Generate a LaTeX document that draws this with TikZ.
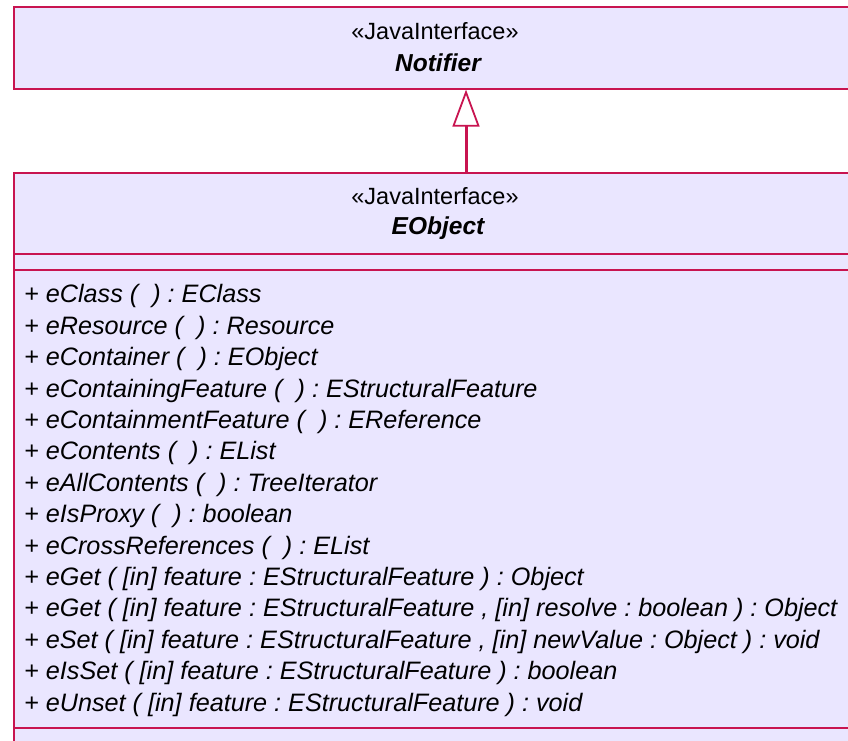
\documentclass[tikz,border=0pt]{standalone}
\usepackage{fontspec}
\setmainfont{Liberation Sans}
\usetikzlibrary{arrows.meta}
\definecolor{umlborder}{RGB}{200,20,80}
\definecolor{umlfill}{RGB}{234,230,255}
\frenchspacing
\begin{document}
\begin{tikzpicture}[x=1pt,y=-1pt,
  classbox/.style={draw=umlborder, fill=umlfill, line width=1.6pt,
    anchor=north west, inner sep=0pt},
  compline/.style={draw=umlborder, line width=1.6pt},
  stereo/.style={font=\fontsize{23.5}{28}\selectfont, inner sep=0pt},
  classname/.style={font=\fontsize{24.5}{28}\selectfont\bfseries\itshape, inner sep=0pt},
  ops/.style={font=\fontsize{25.2}{31.4}\selectfont\itshape, align=left,
    anchor=north west, inner sep=0pt},
  realize/.style={draw=umlborder, line width=3pt,
    -{Triangle[open, length=37pt, width=27pt, line width=1.8pt, fill=white]}}]
\useasboundingbox (0,0) rectangle (848,740);
\clip (0,0) rectangle (848,740);

% interface Notifier
\node[classbox, minimum width=844pt, minimum height=82pt] (notifier) at (13,6) {};
\node[stereo] (nstereo) at (435,31) {«JavaInterface»};
\node[classname] (nname) at (438,63) {Notifier};

% interface EObject
\node[classbox, minimum width=844pt, minimum height=590pt] (eobject) at (13,172) {};
\node[stereo] (estereo) at (435,196) {«JavaInterface»};
\node[classname] (ename) at (438,228) {EObject};
\coordinate (attrtop) at (13,254);
\coordinate (opstop) at (13,270);
\coordinate (opsbot) at (13,728);
\draw[compline] (attrtop) -- (attrtop -| eobject.east);
\draw[compline] (opstop) -- (opstop -| eobject.east);
\draw[compline] (opsbot) -- (opsbot -| eobject.east);

\node[ops] (operations) at (24,284.5) {%
+ eClass ( \ ) : EClass\\
+ eResource ( \ ) : Resource\\
+ eContainer ( \ ) : EObject\\
+ eContainingFeature ( \ ) : EStructuralFeature\\
+ eContainmentFeature ( \ ) : EReference\\
+ eContents ( \ ) : EList\\
+ eAllContents ( \ ) : TreeIterator\\
+ eIsProxy ( \ ) : boolean\\
+ eCrossReferences ( \ ) : EList\\
+ eGet ( [in] feature : EStructuralFeature ) : Object\\
+ eGet ( [in] feature : EStructuralFeature , [in] resolve : boolean ) : Object\\
+ eSet ( [in] feature : EStructuralFeature , [in] newValue : Object ) : void\\
+ eIsSet ( [in] feature : EStructuralFeature ) : boolean\\
+ eUnset ( [in] feature : EStructuralFeature ) : void};

% EObject extends Notifier
\draw[realize] (eobject.north -| 466,0) -- (notifier.south -| 466,0);
\end{tikzpicture}
\end{document}
